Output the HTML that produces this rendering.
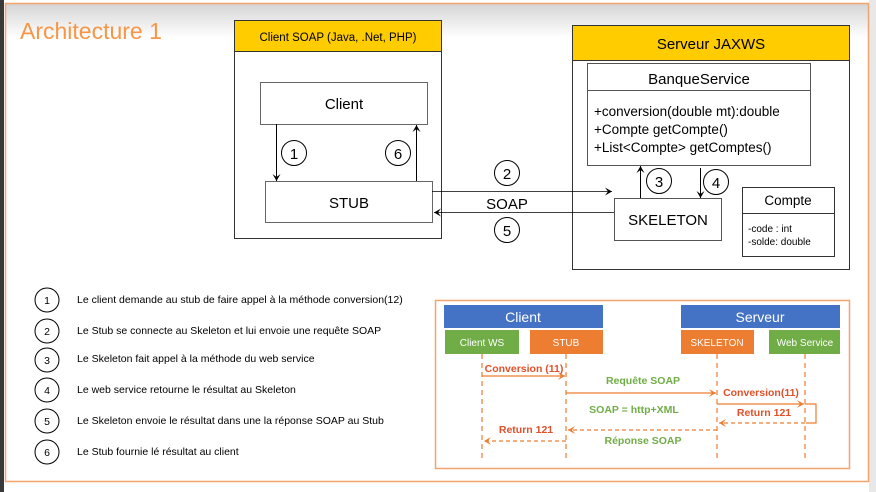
<!DOCTYPE html>
<html><head><meta charset="utf-8"><style>
html,body{margin:0;padding:0;width:876px;height:492px;overflow:hidden;background:#fff}
svg{display:block}
text{font-family:"Liberation Sans",sans-serif}
</style></head><body>
<svg width="876" height="492" viewBox="0 0 876 492" xmlns="http://www.w3.org/2000/svg">
<defs>
<linearGradient id="g" x1="0" y1="0" x2="0" y2="1"><stop offset="0" stop-color="#d4d4d4"/><stop offset="1" stop-color="#ffffff"/></linearGradient>
<marker id="a" markerWidth="8" markerHeight="8" refX="7" refY="4" orient="auto" markerUnits="userSpaceOnUse"><path d="M0,0 L7,4 L0,8 L3,4z" fill="#000"/></marker>
<marker id="o" markerWidth="8" markerHeight="8" refX="7" refY="4" orient="auto" markerUnits="userSpaceOnUse"><path d="M0,0 L7,4 L0,8 L3,4z" fill="#ed7d31"/></marker>
</defs>
<rect x="0" y="0" width="876" height="492" fill="#fff"/>
<rect x="0" y="0" width="4" height="492" fill="#3a3a3a"/>
<rect x="869" y="0" width="7" height="492" fill="#e8e8e8"/>
<rect x="5" y="3" width="864" height="35" fill="url(#g)"/>
<rect x="5.5" y="3.5" width="863" height="478" fill="none" stroke="#f4a46c" stroke-width="1.5"/>
<text x="20" y="39" font-size="23" fill="#f79646">Architecture 1</text>

<!-- Client SOAP -->
<rect x="234.5" y="20.5" width="207" height="218" fill="#fff" stroke="#333"/>
<rect x="234.5" y="20.5" width="207" height="31" fill="#ffcc00" stroke="#333"/>
<text x="338" y="41" font-size="11.5" text-anchor="middle">Client SOAP (Java, .Net, PHP)</text>
<rect x="260.5" y="82.5" width="167" height="42" fill="#fff" stroke="#666"/>
<text x="344" y="109" font-size="15" text-anchor="middle">Client</text>
<rect x="265.5" y="181.5" width="167" height="41" fill="#fff" stroke="#666"/>
<text x="349" y="208" font-size="15" text-anchor="middle">STUB</text>
<line x1="276.5" y1="124" x2="276.5" y2="181" stroke="#000" marker-end="url(#a)"/>
<line x1="416.5" y1="181" x2="416.5" y2="125" stroke="#000" marker-end="url(#a)"/>
<circle cx="294" cy="153" r="12.5" fill="none" stroke="#000"/><text x="294" y="159" font-size="15" text-anchor="middle">1</text>
<circle cx="398" cy="153" r="12.5" fill="none" stroke="#000"/><text x="398" y="159" font-size="15" text-anchor="middle">6</text>

<!-- Server -->
<rect x="572.5" y="25.5" width="277" height="244" fill="#fff" stroke="#333"/>
<rect x="572.5" y="25.5" width="277" height="35" fill="#ffcc00" stroke="#333"/>
<text x="711" y="49" font-size="15" text-anchor="middle">Serveur JAXWS</text>
<rect x="587.5" y="63.5" width="223" height="102" fill="#fff" stroke="#555"/>
<line x1="587" y1="90.5" x2="810" y2="90.5" stroke="#555"/>
<text x="699" y="84" font-size="15" text-anchor="middle">BanqueService</text>
<text x="594" y="116" font-size="13.5">+conversion(double mt):double</text>
<text x="594" y="134" font-size="13.5">+Compte getCompte()</text>
<text x="594" y="152" font-size="13.5">+List&lt;Compte&gt; getComptes()</text>
<rect x="614.5" y="198.5" width="107" height="42" fill="#fff" stroke="#555"/>
<text x="668" y="225" font-size="15" text-anchor="middle">SKELETON</text>
<line x1="640.5" y1="198" x2="640.5" y2="166" stroke="#000" marker-end="url(#a)"/>
<line x1="700.5" y1="168" x2="700.5" y2="198" stroke="#000" marker-end="url(#a)"/>
<circle cx="659" cy="181" r="12.5" fill="none" stroke="#000"/><text x="659" y="187" font-size="15" text-anchor="middle">3</text>
<circle cx="716" cy="182" r="12.5" fill="none" stroke="#000"/><text x="716" y="188" font-size="15" text-anchor="middle">4</text>
<rect x="742.5" y="187.5" width="92" height="69" fill="#fff" stroke="#333"/>
<line x1="742" y1="213.5" x2="834" y2="213.5" stroke="#333"/>
<text x="788" y="205" font-size="13.5" text-anchor="middle">Compte</text>
<text x="748" y="232" font-size="10">-code : int</text>
<text x="748" y="245" font-size="10">-solde: double</text>

<!-- middle arrows -->
<line x1="432" y1="191.5" x2="612" y2="191.5" stroke="#000" stroke-width="0.8" marker-end="url(#a)"/>
<line x1="614" y1="212.5" x2="434" y2="212.5" stroke="#000" stroke-width="0.8" marker-end="url(#a)"/>
<circle cx="507" cy="173" r="12.5" fill="none" stroke="#000"/><text x="507" y="179" font-size="15" text-anchor="middle">2</text>
<circle cx="507" cy="230" r="12.5" fill="none" stroke="#000"/><text x="507" y="236" font-size="15" text-anchor="middle">5</text>
<text x="507" y="209" font-size="15" text-anchor="middle">SOAP</text>

<!-- legend -->
<g font-size="10.5" fill="#000">
<circle cx="47" cy="300" r="12" fill="none" stroke="#000"/><text x="47" y="304" text-anchor="middle">1</text><text x="77" y="303">Le client demande au stub de faire appel à la méthode conversion(12)</text>
<circle cx="47" cy="331" r="12" fill="none" stroke="#000"/><text x="47" y="335" text-anchor="middle">2</text><text x="77" y="334">Le Stub se connecte au Skeleton et lui envoie une requête SOAP</text>
<circle cx="47" cy="360" r="12" fill="none" stroke="#000"/><text x="47" y="364" text-anchor="middle">3</text><text x="77" y="362">Le Skeleton fait appel à la méthode du web service</text>
<circle cx="47" cy="390" r="12" fill="none" stroke="#000"/><text x="47" y="394" text-anchor="middle">4</text><text x="77" y="393">Le web service retourne le résultat au Skeleton</text>
<circle cx="47" cy="421" r="12" fill="none" stroke="#000"/><text x="47" y="425" text-anchor="middle">5</text><text x="77" y="424">Le Skeleton envoie le résultat dans une la réponse SOAP au Stub</text>
<circle cx="47" cy="452" r="12" fill="none" stroke="#000"/><text x="47" y="456" text-anchor="middle">6</text><text x="77" y="455">Le Stub fournie lé résultat au client</text>
</g>

<!-- sequence -->
<rect x="435.5" y="300.5" width="414" height="168" fill="#fff" stroke="#f4a46c" stroke-width="1.5"/>
<rect x="444" y="305" width="159" height="23" fill="#4472c4"/>
<text x="523" y="322" font-size="14" fill="#fff" text-anchor="middle">Client</text>
<rect x="681" y="305" width="159" height="23" fill="#4472c4"/>
<text x="760" y="322" font-size="14" fill="#fff" text-anchor="middle">Serveur</text>
<rect x="445" y="330" width="74" height="24" fill="#70ad47"/><text x="482" y="346" font-size="10" fill="#fff" text-anchor="middle">Client WS</text>
<rect x="530" y="330" width="73" height="24" fill="#ed7d31"/><text x="566" y="346" font-size="10" fill="#fff" text-anchor="middle">STUB</text>
<rect x="681" y="330" width="73" height="24" fill="#ed7d31"/><text x="717" y="346" font-size="10" fill="#fff" text-anchor="middle">SKELETON</text>
<rect x="769" y="330" width="71" height="24" fill="#70ad47"/><text x="805" y="346" font-size="10" fill="#fff" text-anchor="middle">Web Service</text>
<g stroke="#ed7d31" stroke-dasharray="5,4" stroke-width="1.2">
<line x1="482" y1="354" x2="482" y2="462"/><line x1="566" y1="354" x2="566" y2="462"/>
<line x1="717" y1="354" x2="717" y2="462"/><line x1="805" y1="354" x2="805" y2="462"/>
</g>
<g stroke="#ed7d31" stroke-width="1.2" fill="none">
<line x1="482" y1="376" x2="565" y2="376" marker-end="url(#o)"/>
<line x1="566" y1="393" x2="716" y2="393" marker-end="url(#o)"/>
<line x1="717" y1="404" x2="804" y2="404" marker-end="url(#o)"/>
<polyline points="805,404 816,404 816,423 806,423"/>
<line x1="805" y1="423" x2="719" y2="423" stroke-dasharray="4,3" marker-end="url(#o)"/>
<line x1="717" y1="430" x2="568" y2="430" stroke-dasharray="4,3" marker-end="url(#o)"/>
<line x1="566" y1="441" x2="484" y2="441" stroke-dasharray="4,3" marker-end="url(#o)"/>
</g>
<g font-size="10.5" font-weight="bold">
<text x="524" y="372" fill="#e0502a" text-anchor="middle">Conversion (11)</text>
<text x="643" y="384" fill="#70ad47" text-anchor="middle">Requête SOAP</text>
<text x="761" y="396" fill="#e0502a" text-anchor="middle">Conversion(11)</text>
<text x="764" y="416" fill="#e0502a" text-anchor="middle">Return 121</text>
<text x="634" y="413" fill="#70ad47" text-anchor="middle">SOAP = http+XML</text>
<text x="526" y="433" fill="#e0502a" text-anchor="middle">Return 121</text>
<text x="643" y="444" fill="#70ad47" text-anchor="middle">Réponse SOAP</text>
</g>
</svg>
</body></html>
